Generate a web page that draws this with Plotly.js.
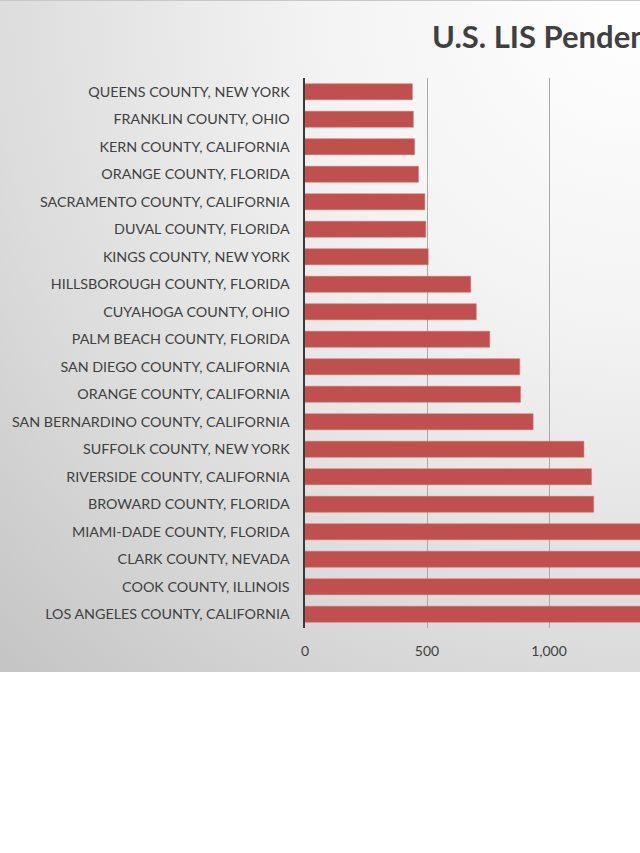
<!DOCTYPE html>
<html>
<head>
<meta charset="utf-8">
<script src="https://cdn.plot.ly/plotly-3.0.1.min.js"></script>
<style>
  html, body { margin: 0; padding: 0; background: #ffffff; width: 640px; height: 853px; overflow: hidden; }
  #frame {
    position: relative; width: 640px; height: 672px; overflow: hidden;
    background: radial-gradient(circle farthest-corner at 100% 0%, #ffffff 0%, #f3f3f3 35%, #dcdcdc 70%, #c4c4c4 100%);
    border-top: 1px solid #c8c8c8; box-sizing: border-box;
  }
  #chart { position: absolute; left: 0; top: -1px; width: 1100px; height: 672px; }
</style>
</head>
<body>
<div id="frame"><div id="chart"></div></div>
<script>
// Counties listed top to bottom as in the reference
const counties = [
  "QUEENS COUNTY, NEW YORK",
  "FRANKLIN COUNTY, OHIO",
  "KERN COUNTY, CALIFORNIA",
  "ORANGE COUNTY, FLORIDA",
  "SACRAMENTO COUNTY, CALIFORNIA",
  "DUVAL COUNTY, FLORIDA",
  "KINGS COUNTY, NEW YORK",
  "HILLSBOROUGH COUNTY, FLORIDA",
  "CUYAHOGA COUNTY, OHIO",
  "PALM BEACH COUNTY, FLORIDA",
  "SAN DIEGO COUNTY, CALIFORNIA",
  "ORANGE COUNTY, CALIFORNIA",
  "SAN BERNARDINO COUNTY, CALIFORNIA",
  "SUFFOLK COUNTY, NEW YORK",
  "RIVERSIDE COUNTY, CALIFORNIA",
  "BROWARD COUNTY, FLORIDA",
  "MIAMI-DADE COUNTY, FLORIDA",
  "CLARK COUNTY, NEVADA",
  "COOK COUNTY, ILLINOIS",
  "LOS ANGELES COUNTY, CALIFORNIA"
];
// Lis pendens counts (last four run past the cropped edge; estimated)
const filings = [440, 444, 449, 465, 491, 495, 505, 679, 702, 757, 880, 883, 935, 1143, 1174, 1183, 1650, 1900, 2200, 2600];
// Tick labels visible in the reference
const tickValues = [0, 500, 1000];
const chartTitle = "U.S. LIS Pendens by County";

const W = 1100;
const trace = {
  type: "bar",
  orientation: "h",
  x: filings,
  y: counties,
  marker: { color: "#c0504d", line: { color: "#d46a67", width: 0.5 } },
  hoverinfo: "x+y"
};

const layout = {
  width: W,
  height: 672,
  paper_bgcolor: "rgba(0,0,0,0)",
  plot_bgcolor: "rgba(0,0,0,0)",
  margin: { l: 305, r: W - 305 - 732, t: 78, b: 44 },
  bargap: 0.42,
  showlegend: false,
  font: { family: "Lato, 'Open Sans', sans-serif", size: 14, color: "#404040" },
  title: {
    text: chartTitle,
    font: { family: "Lato, 'Open Sans', sans-serif", size: 31, color: "#404040", weight: 700 },
    xref: "container", yref: "container",
    x: 432 / W, xanchor: "left",
    y: 1 - 37 / 672, yanchor: "middle"
  },
  xaxis: {
    range: [0, 3000],
    tickvals: tickValues,
    tickformat: ",d",
    showgrid: true,
    gridcolor: "#a9a9a9",
    gridwidth: 1,
    zeroline: false,
    showline: false,
    ticks: "",
    ticklabelstandoff: 13,
    tickfont: { size: 14, color: "#404040" },
    fixedrange: true
  },
  yaxis: {
    type: "category",
    autorange: "reversed",
    showgrid: false,
    zeroline: false,
    showline: true,
    linecolor: "#3a3a3a",
    linewidth: 2.5,
    ticks: "",
    ticklabelstandoff: 10,
    tickfont: { size: 14.3, color: "#404040" },
    fixedrange: true
  }
};

Plotly.newPlot("chart", [trace], layout, { displayModeBar: false, staticPlot: true });
</script>
</body>
</html>
